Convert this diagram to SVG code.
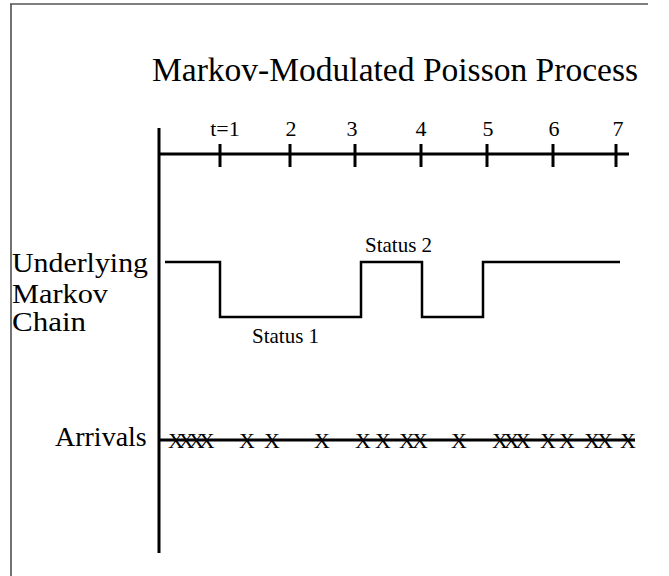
<svg xmlns="http://www.w3.org/2000/svg" width="669" height="576" viewBox="0 0 669 576">
<style>
.t{font-family:"Liberation Serif","Times New Roman","DejaVu Serif",serif;fill:#000}
.ln{stroke:#000;fill:none;stroke-linecap:butt}
.ax{stroke-width:3}
.ch{stroke-width:2.5}
.x{font-family:"Liberation Serif","Times New Roman","DejaVu Serif",serif;font-size:22px;fill:#000}
</style>
<rect width="669" height="576" fill="#fff"/>
<g id="frame">
<line x1="11" y1="4" x2="11" y2="576" stroke="#444" stroke-width="1.5"/>
<line x1="10" y1="4" x2="648" y2="4" stroke="#555" stroke-width="1.5"/>
</g>
<g id="title"><text class="t" x="152" y="81" font-size="33" textLength="486" lengthAdjust="spacingAndGlyphs">Markov-Modulated Poisson Process</text></g>
<g id="time-axis">
<line class="ln ax" x1="159" y1="154" x2="629" y2="154"/>
<line class="ln ax" x1="220" y1="144" x2="220" y2="167"/>
<line class="ln ax" x1="290" y1="144" x2="290" y2="167"/>
<line class="ln ax" x1="355" y1="144" x2="355" y2="167"/>
<line class="ln ax" x1="421" y1="144" x2="421" y2="167"/>
<line class="ln ax" x1="487" y1="144" x2="487" y2="167"/>
<line class="ln ax" x1="553" y1="144" x2="553" y2="167"/>
<line class="ln ax" x1="616" y1="144" x2="616" y2="167"/>
<g class="t" font-size="22" text-anchor="middle">
<text x="225" y="136">t=1</text>
<text x="291" y="136">2</text>
<text x="352" y="136">3</text>
<text x="421" y="136">4</text>
<text x="488" y="136">5</text>
<text x="554" y="136">6</text>
<text x="618" y="136">7</text>
</g>
</g>
<g id="vertical-axis"><line class="ln ax" x1="159" y1="128" x2="159" y2="553"/></g>
<g id="markov-label" class="t" font-size="28">
<text x="12" y="272" textLength="136" lengthAdjust="spacingAndGlyphs">Underlying</text>
<text x="12" y="303" textLength="96" lengthAdjust="spacingAndGlyphs">Markov</text>
<text x="12" y="331" textLength="74" lengthAdjust="spacingAndGlyphs">Chain</text>
</g>
<g id="markov-chain">
<polyline class="ln ch" points="165,262 220,262 220,317 361,317 361,262 422,262 422,317 483,317 483,262 620,262"/>
<text class="t" x="252" y="343" font-size="21">Status 1</text>
<text class="t" x="365" y="252" font-size="21">Status 2</text>
</g>
<g id="arrivals">
<text class="t" x="55" y="446" font-size="28">Arrivals</text>
<line class="ln ax" x1="159" y1="440" x2="635" y2="440"/>
<g class="x">
<text x="168" y="448" letter-spacing="-5.6">XXXX</text>
<text x="239" y="448">X</text>
<text x="264" y="448">X</text>
<text x="314" y="448">X</text>
<text x="355" y="448">X</text>
<text x="375" y="448">X</text>
<text x="399" y="448" letter-spacing="-2.9">XX</text>
<text x="451" y="448">X</text>
<text x="492" y="448" letter-spacing="-4.4">XXX</text>
<text x="540" y="448">X</text>
<text x="559" y="448">X</text>
<text x="584" y="448" letter-spacing="-2.9">XX</text>
<text x="620" y="448">X</text>
</g>
</g>
</svg>
